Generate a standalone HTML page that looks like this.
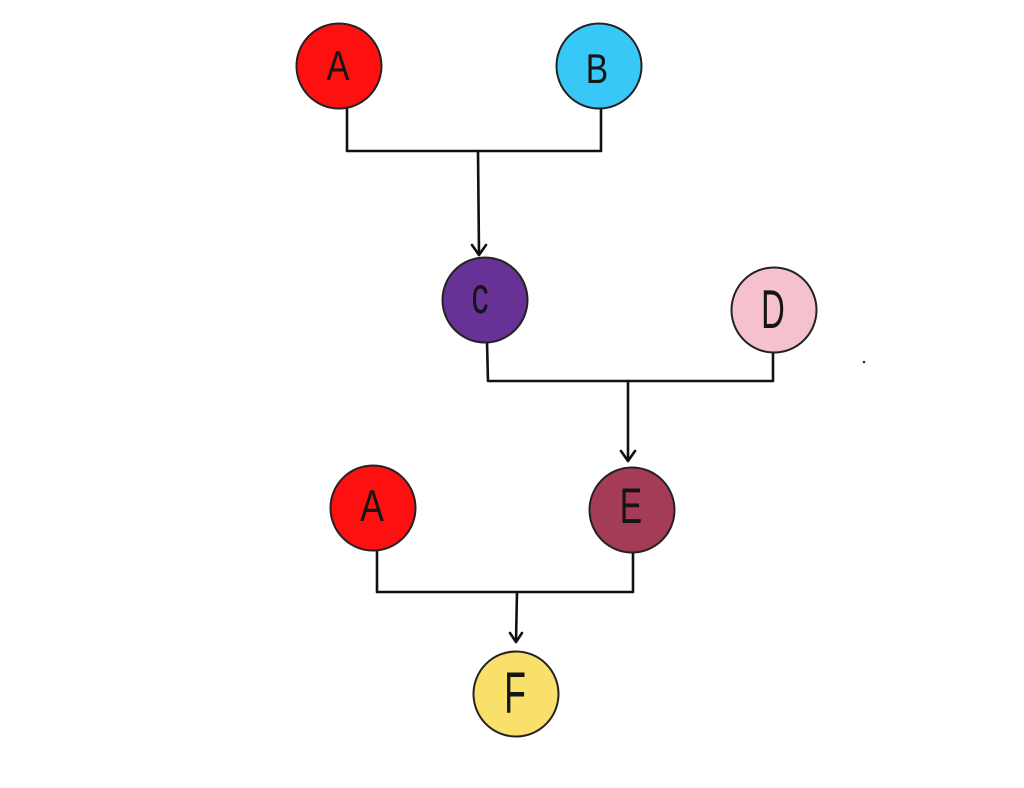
<!DOCTYPE html>
<html><head><meta charset="utf-8"><style>
html,body{margin:0;padding:0;background:#fff;}
svg{display:block;}
text{font-family:"Liberation Sans",sans-serif;fill:#151515;}
</style></head><body>
<svg width="1024" height="788" viewBox="0 0 1024 788" xmlns="http://www.w3.org/2000/svg">
<rect width="1024" height="788" fill="#fff"/>
<g stroke="#111" stroke-width="2.6" fill="none" stroke-linecap="round" stroke-linejoin="round">
  <polyline points="347,109 347,151 601,151 601,108"/>
  <polyline points="478,151 479,254"/>
  <polyline points="472,245 479,255 486,245"/>
  <polyline points="487,342 488,381 773,381 773,352"/>
  <polyline points="628,381 628,460"/>
  <polyline points="621,451 628,461 635,451"/>
  <polyline points="377,551 377,592 633,592 633,552"/>
  <polyline points="517,592 516,641"/>
  <polyline points="510,633 516,642 522,633"/>
</g>
<g stroke="#222" stroke-width="2">
  <circle cx="339" cy="66" r="42.5" fill="#fe1010"/>
  <circle cx="599" cy="66" r="42.5" fill="#38c8f8"/>
  <circle cx="485" cy="300" r="42.5" fill="#673196"/>
  <circle cx="774" cy="310" r="42.5" fill="#f4c1cc"/>
  <circle cx="373" cy="508" r="42.5" fill="#fe1010"/>
  <circle cx="632" cy="510" r="42.5" fill="#a43b57"/>
  <circle cx="516" cy="694" r="42.5" fill="#f9e06a"/>
</g>
<circle cx="864" cy="362" r="1.3" fill="#333"/>
<g text-anchor="middle" font-size="42">
  <text transform="translate(338,80) scale(0.82,1)">A</text>
  <text transform="translate(597,83) scale(0.8,1)">B</text>
  <text transform="translate(480,313) scale(0.85,1.3)" font-size="40">c</text>
  <text transform="translate(773,328) scale(0.78,1.3)">D</text>
  <text transform="translate(372,521) scale(0.85,1.05)">A</text>
  <text transform="translate(631,523) scale(0.8,1.2)">E</text>
  <text transform="translate(515,713) scale(0.85,1.4)">F</text>
</g>
</svg>
</body></html>
